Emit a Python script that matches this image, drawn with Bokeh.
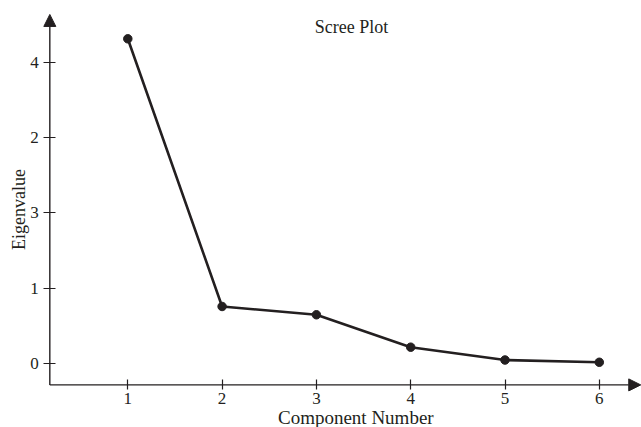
import math
from bokeh.plotting import figure
from bokeh.models import Range1d, FixedTicker, Arrow, NormalHead, Label
from bokeh.embed import file_html
from bokeh.resources import INLINE

# ---- data ----
components = [1, 2, 3, 4, 5, 6]
eigenvalues = [4.31, 0.76, 0.65, 0.22, 0.05, 0.02]
x_ticks = [1, 2, 3, 4, 5, 6]
y_ticks = [0, 1, 2, 3, 4]
y_tick_labels = ["0", "1", "3", "2", "4"]

title_text = "Scree Plot"
x_label = "Component Number"
y_label = "Eigenvalue"

FONT = "Liberation Serif"
INK = "#231f20"

# visible data window (frame = whole canvas)
X0, X1 = -0.350, 6.4475
Y0, Y1 = -0.845, 4.818
# where the two axes cross
AX_X, AX_Y = 0.173, -0.28

p = figure(width=641, height=427, output_backend="svg", toolbar_location=None,
           x_range=Range1d(X0, X1), y_range=Range1d(Y0, Y1), min_border=0)
p.outline_line_color = None
p.xgrid.visible = False
p.ygrid.visible = False
p.background_fill_color = "white"
p.border_fill_color = "white"

for ax in (p.xaxis[0], p.yaxis[0]):
    ax.axis_line_color = None
    ax.major_tick_line_color = INK
    ax.major_tick_line_width = 1.2
    ax.minor_tick_line_color = None
    ax.major_label_text_font = FONT
    ax.major_label_text_font_size = "17px"
    ax.major_label_text_color = INK

xa = p.xaxis[0]
xa.fixed_location = AX_Y
xa.ticker = FixedTicker(ticks=x_ticks)
xa.major_tick_in = 5
xa.major_tick_out = 5
xa.major_label_standoff = 3

ya = p.yaxis[0]
ya.fixed_location = AX_X
ya.ticker = FixedTicker(ticks=y_ticks)
ya.major_label_overrides = {t: s for t, s in zip(y_ticks, y_tick_labels)}
ya.major_tick_in = 6
ya.major_tick_out = 6
ya.major_label_standoff = 5

# axis lines with arrow heads
head = dict(size=12, fill_color=INK, line_color=INK, line_width=1)
p.add_layout(Arrow(end=NormalHead(**head), x_start=AX_X, y_start=AX_Y,
                   x_end=X1 - 0.008, y_end=AX_Y, line_color=INK, line_width=1.4))
p.add_layout(Arrow(end=NormalHead(**head), x_start=AX_X, y_start=AX_Y,
                   x_end=AX_X, y_end=4.633, line_color=INK, line_width=1.4))

# data
p.line(components, eigenvalues, line_color=INK, line_width=2.6)
p.scatter(components, eigenvalues, size=8.5, fill_color=INK, line_color=INK)

# texts
p.add_layout(Label(x=3.372, y=4.46, text=title_text, text_font=FONT,
                   text_font_size="18px", text_color=INK, text_align="center",
                   text_baseline="alphabetic"))
p.add_layout(Label(x=3.418, y=-0.707, text=x_label, text_font=FONT,
                   text_font_size="19px", text_color=INK, text_align="center",
                   text_baseline="alphabetic"))
p.add_layout(Label(x=-0.154, y=2.046, text=y_label, text_font=FONT,
                   text_font_size="18px", text_color=INK, text_align="center",
                   text_baseline="middle", angle=math.pi / 2))

open("out.html", "w").write(file_html(p, INLINE))
